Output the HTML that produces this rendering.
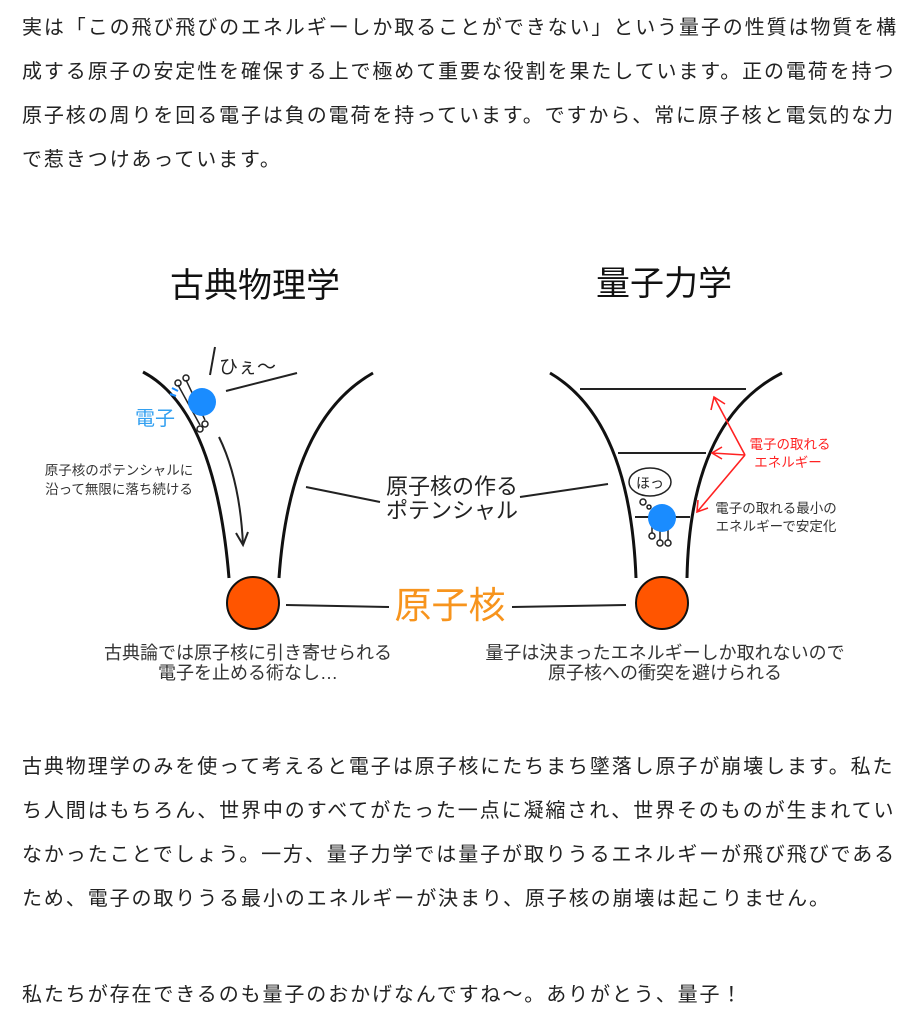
<!DOCTYPE html>
<html><head><meta charset="utf-8"><style>
html,body{margin:0;padding:0;background:#fff;width:924px;height:1023px;overflow:hidden}
.p{position:absolute;left:22px;font-family:"Liberation Sans","Noto Sans CJK JP",sans-serif;font-size:20px;color:#222;letter-spacing:1.9px;white-space:nowrap;line-height:44px}
svg{position:absolute;left:0;top:0}
svg text{font-family:"Liberation Sans","Noto Sans CJK JP",sans-serif}
</style></head><body>
<div class="p" style="top:6px">実は「この飛び飛びのエネルギーしか取ることができない」という量子の性質は物質を構<br>成する原子の安定性を確保する上で極めて重要な役割を果たしています。正の電荷を持つ<br>原子核の周りを回る電子は負の電荷を持っています。ですから、常に原子核と電気的な力<br>で惹きつけあっています。</div>
<div class="p" style="top:745px">古典物理学のみを使って考えると電子は原子核にたちまち墜落し原子が崩壊します。私た<br>ち人間はもちろん、世界中のすべてがたった一点に凝縮され、世界そのものが生まれてい<br>なかったことでしょう。一方、量子力学では量子が取りうるエネルギーが飛び飛びである<br>ため、電子の取りうる最小のエネルギーが決まり、原子核の崩壊は起こりません。</div>
<div class="p" style="top:973px">私たちが存在できるのも量子のおかげなんですね〜。ありがとう、量子！</div>
<svg width="924" height="1023" viewBox="0 0 924 1023">
<g fill="none" stroke="#111" stroke-width="3">
<path d="M143,372 Q215,410 229,578"/>
<path d="M373,373 Q290,420 279,578"/>
<path d="M550,373 Q630,420 636,578"/>
<path d="M782,373 Q690,420 687,578"/>
</g>
<g stroke="#222" stroke-width="2" fill="none">
<line x1="580" y1="389" x2="746" y2="389"/>
<line x1="618" y1="453" x2="706" y2="453"/>
<line x1="635" y1="517" x2="690" y2="517"/>
<line x1="306" y1="487" x2="380" y2="502"/>
<line x1="520" y1="497" x2="608" y2="484"/>
<line x1="286" y1="605" x2="389" y2="607"/>
<line x1="512" y1="607" x2="626" y2="605"/>
<line x1="210" y1="375" x2="215" y2="347"/>
<line x1="226" y1="391" x2="297" y2="373"/>
<path d="M219,437 Q240,480 243,545"/>
<path d="M236,533 L243,545 L248,532"/>
</g>
<g stroke="#222" stroke-width="1.5" fill="none">
<line x1="186" y1="380" x2="205" y2="420"/><circle cx="186" cy="378" r="3"/>
<line x1="178" y1="385" x2="200" y2="425"/><circle cx="178" cy="383" r="3"/>
<circle cx="205" cy="424" r="3"/><circle cx="200" cy="429" r="3"/>
<line x1="652" y1="520" x2="652" y2="533"/><circle cx="652" cy="536" r="3"/>
<line x1="660" y1="530" x2="660" y2="540"/><circle cx="660" cy="543" r="3"/>
<line x1="668" y1="530" x2="668" y2="540"/><circle cx="668" cy="543" r="3"/>
<ellipse cx="650" cy="482" rx="21" ry="14"/>
<circle cx="643" cy="502" r="3"/><circle cx="649" cy="507" r="2"/>
</g>
<circle cx="202" cy="402" r="14" fill="#1a8cff"/>
<circle cx="662" cy="518" r="14" fill="#1a8cff"/>
<path d="M172,388 l6,3 M170,394 l6,2" stroke="#1a8cff" stroke-width="2"/>
<circle cx="253" cy="603" r="26" fill="#ff5500" stroke="#111" stroke-width="2"/>
<circle cx="662" cy="603" r="26" fill="#ff5500" stroke="#111" stroke-width="2"/>
<g stroke="#f22" stroke-width="1.6" fill="none">
<path d="M745,455 L714,397 M711,410 L714,397 L725,404"/>
<path d="M745,455 L712,453 M722,447 L712,453 L722,459"/>
<path d="M745,455 L697,512 M698,500 L697,512 L708,508"/>
</g>
<text x="255" y="297" font-size="34" text-anchor="middle" fill="#111">古典物理学</text>
<text x="664" y="295" font-size="34" text-anchor="middle" fill="#111">量子力学</text>
<text x="219" y="373" font-size="19" fill="#222">ひぇ〜</text>
<text x="155" y="425" font-size="20" text-anchor="middle" fill="#33a0f0">電子</text>
<text x="119" y="475" font-size="13.5" text-anchor="middle" fill="#333">原子核のポテンシャルに</text>
<text x="119" y="494" font-size="13.5" text-anchor="middle" fill="#333">沿って無限に落ち続ける</text>
<text x="452" y="494" font-size="22" text-anchor="middle" fill="#222">原子核の作る</text>
<text x="452" y="518" font-size="22" text-anchor="middle" fill="#222">ポテンシャル</text>
<text x="450" y="618" font-size="37" text-anchor="middle" fill="#f7941d">原子核</text>
<text x="650" y="488" font-size="14" text-anchor="middle" fill="#222">ほっ</text>
<text x="790" y="449" font-size="13.5" text-anchor="middle" fill="#f22">電子の取れる</text>
<text x="788" y="467" font-size="13.5" text-anchor="middle" fill="#f22">エネルギー</text>
<text x="776" y="513" font-size="13.5" text-anchor="middle" fill="#333">電子の取れる最小の</text>
<text x="776" y="531" font-size="13.5" text-anchor="middle" fill="#333">エネルギーで安定化</text>
<text x="248" y="659" font-size="18" text-anchor="middle" fill="#333">古典論では原子核に引き寄せられる</text>
<text x="248" y="679" font-size="18" text-anchor="middle" fill="#333">電子を止める術なし…</text>
<text x="665" y="659" font-size="18" text-anchor="middle" fill="#333">量子は決まったエネルギーしか取れないので</text>
<text x="665" y="679" font-size="18" text-anchor="middle" fill="#333">原子核への衝突を避けられる</text>
</svg>
</body></html>
